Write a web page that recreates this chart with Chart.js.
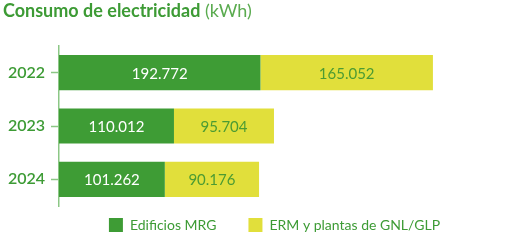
<!DOCTYPE html>
<html>
<head>
<meta charset="utf-8">
<script src="https://cdn.jsdelivr.net/npm/chart.js@4"></script>
<style>
  body { margin: 0; background: #fff; }
  #wrap { position: relative; width: 526px; height: 248px; }
  #title { position: absolute; left: 3px; top: -1px; font-family: Lato, sans-serif; font-size: 18px; color: #3d9b35; white-space: nowrap; }
  #title b { font-weight: 700; }
  #title span { font-weight: 400; color: #5aab4f; }
</style>
</head>
<body>
<div id="wrap">
  <div id="title"><b>Consumo de electricidad</b> <span>(kWh)</span></div>
  <canvas id="elecChart" width="526" height="248"></canvas>
</div>
<script>
const years = ['2022', '2023', '2024'];
const edificiosMRG = [192772, 110012, 101262];
const ermPlantas = [165052, 95704, 90176];
const seriesNames = ['Edificios MRG', 'ERM y plantas de GNL/GLP'];

const green = '#3e9c35';
const yellow = '#e1df3b';
const axisGreen = '#8cc786';
const textGreen = '#3d9b35';
const legendShift = 36; // nudge legend to the right like the original

function fmt(v) {
    return String(v).replace(/\B(?=(\d{3})+(?!\d))/g, '.');
}

// draws the number inside each bar segment
const valueLabels = {
    id: 'valueLabels',
    afterDatasetsDraw(chart) {
        const ctx = chart.ctx;
        ctx.save();
        ctx.font = '15px Lato';
        ctx.textAlign = 'center';
        ctx.textBaseline = 'middle';
        chart.data.datasets.forEach((ds, i) => {
            chart.getDatasetMeta(i).data.forEach((bar, j) => {
                const p = bar.getCenterPoint();
                ctx.fillStyle = i === 0 ? '#ffffff' : '#4c9b33';
                ctx.fillText(fmt(ds.data[j]), p.x, p.y + 1);
            });
        });
        ctx.restore();
    }
};

const legendNudge = {
    id: 'legendNudge',
    afterLayout(chart) {
        const lg = chart.legend;
        lg.left += legendShift;
        lg.right += legendShift;
        lg.top = 186;
        lg.bottom = 248;
    }
};

const ctx = document.getElementById('elecChart').getContext('2d');
const chart = new Chart(ctx, {
    type: 'bar',
    data: {
        labels: years,
        datasets: [{
            label: seriesNames[0],
            data: edificiosMRG,
            backgroundColor: green,
            categoryPercentage: 1,
            barPercentage: 0.66
        }, {
            label: seriesNames[1],
            data: ermPlantas,
            backgroundColor: yellow,
            categoryPercentage: 1,
            barPercentage: 0.66
        }]
    },
    options: {
        indexAxis: 'y',
        responsive: false,
        animation: false,
        layout: { padding: { top: 46, right: 49, left: 0, bottom: 0 } },
        scales: {
            x: {
                stacked: true,
                display: false,
                min: 0,
                max: 400000
            },
            y: {
                stacked: true,
                afterFit(scale) { scale.width = 59; },
                border: { color: axisGreen, width: 1.5 },
                grid: {
                    offset: false,
                    drawOnChartArea: false,
                    tickLength: 8,
                    tickColor: axisGreen,
                    tickWidth: 1.5
                },
                ticks: {
                    padding: 6,
                    color: textGreen,
                    font: { family: 'Lato', size: 16, weight: '600' }
                }
            }
        },
        plugins: {
            title: { display: false },
            tooltip: { enabled: false },
            legend: {
                position: 'bottom',
                maxHeight: 42,
                labels: {
                    boxWidth: 14,
                    boxHeight: 14,
                    padding: 32,
                    color: textGreen,
                    font: { family: 'Lato', size: 14 }
                }
            }
        }
    },
    plugins: [valueLabels, legendNudge]
});
</script>
</body>
</html>
